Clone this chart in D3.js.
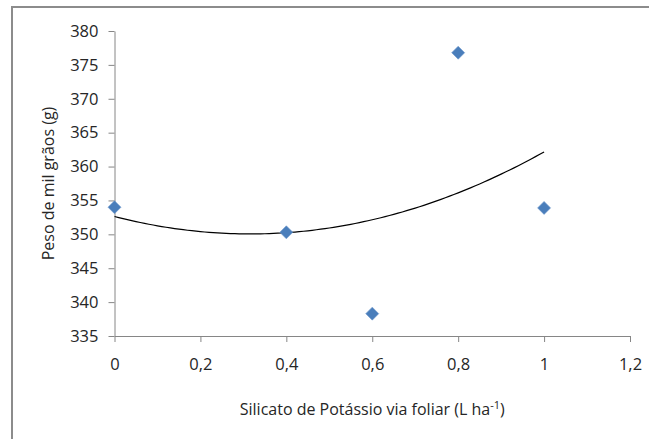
<!DOCTYPE html>
<html>
<head>
<meta charset="UTF-8">
<title>Peso de mil grãos</title>
<script src="https://d3js.org/d3.v7.min.js"></script>
<style>
  body { margin: 0; background: #fff; }
  svg text { font-family: "Open Sans", "DejaVu Sans", sans-serif; fill: #262626; }
</style>
</head>
<body>
<svg id="chart" width="649" height="439"></svg>
<script>
// dose (L/ha) and peso de mil grãos (g)
var doses = [0, 0.4, 0.6, 0.8, 1];
var pesos = [354.0, 350.3, 338.3, 376.8, 353.9];
var xTicks = [0, 0.2, 0.4, 0.6, 0.8, 1, 1.2];
var yTicks = [335, 340, 345, 350, 355, 360, 365, 370, 375, 380];

var svg = d3.select("#chart");

var x = d3.scaleLinear().domain([0, 1.2]).range([114.5, 630]);
var y = d3.scaleLinear().domain([335, 380]).range([336, 31]);

// frame (only top and left edges show in the crop)
svg.append("line").attr("x1", 12).attr("x2", 649).attr("y1", 7).attr("y2", 7)
    .attr("stroke", "#8c8c8c").attr("stroke-width", 2);
svg.append("line").attr("x1", 12).attr("x2", 12).attr("y1", 6).attr("y2", 439)
    .attr("stroke", "#8c8c8c").attr("stroke-width", 2);

var fmt = function (d) { return String(d).replace(".", ","); };

var xAxis = svg.append("g")
    .attr("transform", "translate(0," + y(335) + ")")
    .call(d3.axisBottom(x).tickValues(xTicks).tickFormat(fmt).tickSize(6).tickPadding(16).tickSizeOuter(0));

var yAxis = svg.append("g")
    .attr("transform", "translate(" + x(0) + ",0)")
    .call(d3.axisLeft(y).tickValues(yTicks).tickSize(6).tickPadding(10).tickSizeOuter(0));

[xAxis, yAxis].forEach(function (g) {
    g.attr("font-size", null).attr("font-family", null);
    g.select(".domain").attr("stroke", "#868686");
    g.selectAll(".tick line").attr("stroke", "#868686");
    g.selectAll(".tick text").style("font-size", "16.5px").attr("fill", "#262626");
});

// quadratic trend line (least squares, as Excel's polynomial trendline)
function quadFit(xs, ys) {
    var n = xs.length, s = [0, 0, 0, 0, 0], t = [0, 0, 0];
    for (var i = 0; i < n; i++) {
        for (var k = 0; k < 5; k++) s[k] += Math.pow(xs[i], k);
        for (var k = 0; k < 3; k++) t[k] += ys[i] * Math.pow(xs[i], k);
    }
    var m = [[s[0], s[1], s[2], t[0]], [s[1], s[2], s[3], t[1]], [s[2], s[3], s[4], t[2]]];
    for (var c = 0; c < 3; c++) {
        for (var r = c + 1; r < 3; r++) {
            var f = m[r][c] / m[c][c];
            for (var j = c; j < 4; j++) m[r][j] -= f * m[c][j];
        }
    }
    var coef = [0, 0, 0];
    for (var r = 2; r >= 0; r--) {
        var v = m[r][3];
        for (var j = r + 1; j < 3; j++) v -= m[r][j] * coef[j];
        coef[r] = v / m[r][r];
    }
    return coef;
}

var coef = quadFit(doses, pesos);
var trend = d3.range(0, 1.0001, 0.01).map(function (d) {
    return [d, coef[0] + coef[1] * d + coef[2] * d * d];
});

svg.append("path")
    .datum(trend)
    .attr("fill", "none")
    .attr("stroke", "#000")
    .attr("stroke-width", 1.2)
    .attr("d", d3.line().x(function (d) { return x(d[0]); }).y(function (d) { return y(d[1]); }));

svg.selectAll(".pt")
    .data(doses)
    .enter().append("path")
    .attr("class", "pt")
    .attr("transform", function (d, i) { return "translate(" + x(d) + "," + y(pesos[i]) + ")"; })
    .attr("d", "M0,-6.5L6.5,0L0,6.5L-6.5,0Z")
    .attr("fill", "#4a7ebb")
    .attr("stroke", "#6f98cc")
    .attr("stroke-width", 0.6);

// axis titles
var xt = svg.append("text")
    .attr("x", (x(0) + x(1.2)) / 2)
    .attr("y", 415)
    .attr("text-anchor", "middle")
    .style("font-size", "16px");
xt.append("tspan").text("Silicato de Potássio via foliar (L ha");
xt.append("tspan").style("font-size", "11px").attr("dy", -6).text("-1");
xt.append("tspan").attr("dy", 6).text(")");

svg.append("text")
    .attr("transform", "translate(54," + (y(335) + y(380)) / 2 + ") rotate(-90)")
    .attr("text-anchor", "middle")
    .style("font-size", "16px")
    .text("Peso de mil grãos (g)");
</script>
</body>
</html>
